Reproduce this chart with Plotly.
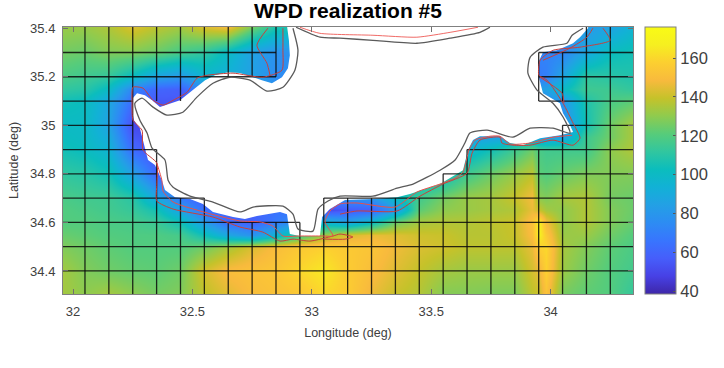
import plotly.graph_objects as go

# ---------- data ----------
lons = [31.95,32.05,32.15,32.25,32.35,32.45,32.55,32.65,32.75,32.85,32.95,33.05,33.15,33.25,33.35,33.45,33.55,33.65,33.75,33.85,33.92,33.95,33.98,34.05,34.15,34.25,34.35]
lats = [34.30,34.40,34.50,34.55,34.60,34.65,34.70,34.80,34.90,34.95,35.00,35.10,35.15,35.20,35.30,35.41]

wpd_3430 = [134,130,134,130,126,128,138,144,150,152,154,160,156,146,140,136,128,128,127,127,138,140,152,126,122,120,112]
wpd_3440 = [134,128,125,123,122,125,142,150,152,154,160,165,156,150,144,139,134,132,132,132,142,146,158,132,125,120,116]
wpd_3450 = [128,125,122,120,120,120,125,134,143,150,155,158,155,153,147,143,141,138,138,138,146,158,160,134,128,122,118]
wpd_3455 = [124,122,120,119,119,117,104,88,78,95,115,132,143,146,144,141,140,137,137,140,150,168,155,132,132,125,120]
wpd_3460 = [120,120,118,117,114,105,82,62,58,68,80,95,85,100,124,134,136,136,138,140,152,168,148,130,136,128,123]
wpd_3465 = [120,118,116,113,105,85,65,58,58,65,65,50,55,58,80,122,130,132,134,136,146,140,134,130,136,128,124]
wpd_3470 = [118,116,115,110,88,68,55,55,55,55,55,70,80,80,100,116,126,132,134,140,148,130,128,134,136,126,124]
wpd_3480 = [112,110,105,85,60,55,55,55,55,55,60,90,90,90,90,95,100,116,125,132,138,122,120,124,128,128,128]
wpd_3490 = [105,102,95,62,50,50,50,50,50,50,60,85,85,85,85,85,90,95,105,116,125,118,116,116,116,130,136]
wpd_3495 = [102,100,90,55,50,50,50,50,50,50,60,85,85,85,85,85,85,85,85,85,85,85,85,85,115,125,135]
wpd_3500 = [100,100,85,50,48,50,55,60,60,60,60,75,75,75,75,75,75,75,75,75,75,75,75,75,105,125,135]
wpd_3510 = [105,102,88,62,55,55,55,60,60,60,60,75,75,75,75,75,75,75,75,75,75,75,75,80,108,118,122]
wpd_3515 = [112,110,100,72,60,58,75,80,80,80,80,85,85,85,85,85,85,85,85,85,85,85,85,100,115,115,112]
wpd_3520 = [118,115,112,100,85,80,95,92,85,75,75,68,68,68,68,68,68,68,68,68,68,68,70,88,112,110,108]
wpd_3530 = [126,124,128,128,124,118,112,100,85,78,78,72,72,72,72,72,72,72,72,72,72,72,72,72,88,102,105]
wpd_3541 = [132,132,136,144,138,134,144,150,128,108,108,90,90,90,90,90,90,90,90,90,90,90,90,85,82,85,95]

wpd = [wpd_3430,wpd_3440,wpd_3450,wpd_3455,wpd_3460,wpd_3465,wpd_3470,wpd_3480,wpd_3490,
       wpd_3495,wpd_3500,wpd_3510,wpd_3515,wpd_3520,wpd_3530,wpd_3541]

# land mask (edge of the wind-power field)
land_lon = [32.896,32.904,32.908,32.900,32.875,32.833,32.791,32.741,32.699,32.649,32.594,32.553,32.519,32.490,32.448,32.385,32.364,32.331,32.301,32.268,32.251,32.247,32.255,32.280,32.293,32.301,32.314,32.343,32.372,32.385,32.427,32.490,32.544,32.586,32.670,32.720,32.770,32.867,32.896,32.908,32.950,33.034,33.043,33.076,33.139,33.256,33.357,33.411,33.537,33.633,33.654,33.675,33.704,33.788,33.830,33.884,33.956,34.039,34.094,34.081,34.052,34.039,33.968,33.951,33.947,33.968,34.027,34.094,34.123,34.157,34.157]
land_lat = [35.41,35.350,35.289,35.235,35.198,35.173,35.186,35.202,35.215,35.219,35.206,35.186,35.161,35.136,35.103,35.083,35.075,35.103,35.124,35.132,35.112,35.062,35.021,34.988,34.939,34.898,34.857,34.836,34.774,34.733,34.704,34.696,34.676,34.643,34.622,34.614,34.626,34.643,34.634,34.552,34.544,34.544,34.622,34.655,34.692,34.696,34.704,34.717,34.758,34.815,34.898,34.939,34.955,34.955,34.927,34.918,34.947,34.959,34.972,35.001,35.050,35.091,35.132,35.198,35.256,35.301,35.309,35.338,35.363,35.400,35.41]

# coast outline
coast_lon = [32.921,32.942,32.929,32.879,32.812,32.741,32.657,32.586,32.519,32.460,32.393,32.335,32.289,32.259,32.280,32.310,32.331,32.385,32.398,32.419,32.490,32.586,32.699,32.754,32.879,32.921,32.942,33.005,33.026,33.068,33.118,33.256,33.357,33.424,33.537,33.600,33.641,33.662,33.734,33.842,33.914,34.010,34.081,34.052,34.010,33.943,33.905,33.914,33.968,34.068,34.090,34.136]
coast_lat = [35.400,35.309,35.227,35.157,35.141,35.186,35.198,35.173,35.116,35.054,35.042,35.075,35.112,35.091,35.021,34.968,34.906,34.857,34.774,34.745,34.708,34.684,34.643,34.663,34.667,34.634,34.573,34.564,34.655,34.688,34.708,34.708,34.741,34.758,34.815,34.857,34.927,34.968,34.980,34.951,34.988,34.988,34.968,35.034,35.091,35.145,35.215,35.280,35.322,35.338,35.371,35.400]
north_lon = [32.934,33.034,33.118,33.256,33.440,33.579,33.704,33.746]
north_lat = [35.404,35.363,35.359,35.350,35.338,35.359,35.383,35.404]

# red contours
red_a_lon = [32.816,32.770,32.812,32.825]
red_a_lat = [35.400,35.330,35.256,35.206]
red_b_lon = [32.879,32.879,32.875,32.795,32.670,32.561,32.519,32.477,32.419,32.377,32.335,32.293,32.251,32.247,32.251,32.289,32.293,32.351,32.351,32.351,32.419,32.586,32.699,32.795,32.867,32.921,32.992,33.089,33.118,33.172,33.139,33.055]
red_b_lat = [35.400,35.309,35.227,35.198,35.215,35.206,35.194,35.136,35.103,35.083,35.103,35.153,35.157,35.091,35.021,34.980,34.898,34.844,34.758,34.688,34.655,34.622,34.581,34.560,34.523,34.531,34.523,34.544,34.552,34.540,34.531,34.531]
red_c_lon = [32.351,32.372,32.377,32.419,32.532,32.699,32.783,32.837,32.879,32.950,33.047,33.089,33.055,33.076,33.118,33.189,33.348,33.440,33.537,33.600,33.633,33.658,33.683,33.746,33.788,33.830,33.914,34.010,34.090]
red_c_lat = [34.844,34.774,34.729,34.684,34.647,34.606,34.602,34.585,34.544,34.544,34.544,34.544,34.602,34.647,34.676,34.680,34.663,34.725,34.758,34.783,34.807,34.898,34.939,34.955,34.955,34.923,34.927,34.951,34.959]
red_e_lon = [33.118,33.189,33.357,33.453,33.549,33.650,33.671,33.704,33.788,33.796,33.842,33.914,34.010,34.094,34.123,34.094,34.052,33.985,33.951,33.956,34.010,34.123,34.249,34.219]
red_e_lat = [34.634,34.647,34.647,34.708,34.758,34.803,34.885,34.939,34.951,34.927,34.918,34.918,34.939,34.918,34.947,35.009,35.091,35.186,35.206,35.268,35.309,35.322,35.350,35.400]
red_f_lon = [33.956,34.048,34.056]
red_f_lat = [35.198,35.132,35.091]
red_g_lon = [33.968,34.081,34.152,34.177]
red_g_lat = [35.268,35.318,35.363,35.400]
red_n_lon = [32.950,33.034,33.256,33.440,33.579,33.696]
red_n_lat = [35.404,35.379,35.371,35.363,35.383,35.404]

# 0.1 degree grid cells
grid_h = [(35.3,[(31.95,32.85),(33.95,34.35)]),(35.2,[(31.95,32.85),(33.95,34.35)]),
          (35.1,[(31.95,32.25),(33.95,34.35)]),(35.0,[(31.95,32.25),(34.05,34.35)]),
          (34.9,[(31.95,32.35),(33.65,34.35)]),(34.8,[(31.95,32.35),(33.55,34.35)]),
          (34.7,[(31.95,32.55),(33.05,34.35)]),(34.6,[(31.95,32.95),(33.05,34.35)]),
          (34.5,[(31.95,34.35)]),(34.4,[(31.95,34.35)])]
grid_v = [(32.05,[(35.41,34.3)]),(32.15,[(35.41,34.3)]),(32.25,[(35.41,34.3)]),
          (32.35,[(35.41,35.1),(34.9,34.3)]),(32.45,[(35.41,35.1),(34.7,34.3)]),
          (32.55,[(35.41,35.2),(34.7,34.3)]),(32.65,[(35.41,35.2),(34.6,34.3)]),
          (32.75,[(35.41,35.2),(34.6,34.3)]),(32.85,[(35.41,35.2),(34.6,34.3)]),
          (32.95,[(34.6,34.3)]),(33.05,[(34.7,34.3)]),(33.15,[(34.7,34.3)]),(33.25,[(34.7,34.3)]),
          (33.35,[(34.7,34.3)]),(33.45,[(34.7,34.3)]),(33.55,[(34.8,34.3)]),(33.65,[(34.9,34.3)]),
          (33.75,[(34.9,34.3)]),(33.85,[(34.9,34.3)]),(33.95,[(35.3,35.1),(34.9,34.3)]),
          (34.05,[(35.3,35.1),(35.0,34.3)]),(34.15,[(35.41,34.3)]),(34.25,[(35.41,34.3)])]

x_ticks = [32,32.5,33,33.5,34]
x_labels = ["32","32.5","33","33.5","34"]
y_ticks = [34.4,34.6,34.8,35,35.2,35.4]
y_labels = ["34.4","34.6","34.8","35","35.2","35.4"]
cb_ticks = [40,60,80,100,120,140,160]

# ---------- style ----------
parula = [(0.2422,0.1504,0.6603),(0.2783,0.2559,0.8991),(0.2760,0.3667,0.9829),(0.2206,0.4603,0.9973),
          (0.1764,0.5499,0.9520),(0.1380,0.6276,0.8973),(0.0689,0.6948,0.8394),(0.0433,0.7411,0.7394),
          (0.1938,0.7758,0.6251),(0.3406,0.8008,0.4789),(0.5616,0.7942,0.3045),(0.7738,0.7598,0.1646),
          (0.9728,0.7298,0.2394),(0.9892,0.8136,0.1884),(0.9628,0.9373,0.1265),(0.9769,0.9839,0.0805)]
n = len(parula) - 1
colorscale = [[i / n, f"rgb({r*255:.0f},{g*255:.0f},{b*255:.0f})"] for i, (r, g, b) in enumerate(parula)]
TXT = "#404040"
FONT = "Liberation Sans"

fig = go.Figure()
fig.add_trace(go.Heatmap(x=lons, y=lats, z=wpd, zsmooth="best", zmin=38.5, zmax=176,
    colorscale=colorscale, hoverinfo="skip",
    colorbar=dict(x=(645-63)/570, xanchor="left", xpad=0, ypad=0, y=0, yanchor="bottom", len=1, lenmode="fraction",
                  thickness=31, thicknessmode="pixels", tickmode="array", tickvals=cb_ticks, ticks="inside",
                  ticklen=3, tickcolor="#555555", outlinecolor="#808080", outlinewidth=1,
                  tickfont=dict(family=FONT, size=16.5, color=TXT))))
fig.add_trace(go.Scatter(x=land_lon, y=land_lat, mode="lines", fill="toself", fillcolor="white",
                         line=dict(width=0, color="white"), hoverinfo="skip"))

gx, gy = [], []
for la, spans in grid_h:
    for a, b in spans:
        gx += [a, b, None]; gy += [la, la, None]
for lo, spans in grid_v:
    for a, b in spans:
        gx += [lo, lo, None]; gy += [a, b, None]
fig.add_trace(go.Scatter(x=gx, y=gy, mode="lines", line=dict(color="rgba(10,10,10,0.85)", width=1.3), hoverinfo="skip"))

fig.add_trace(go.Scatter(x=coast_lon, y=coast_lat, mode="lines", line=dict(color="#5a5a5a", width=1.3, shape="spline", smoothing=0.6), hoverinfo="skip"))
fig.add_trace(go.Scatter(x=north_lon, y=north_lat, mode="lines", line=dict(color="#5a5a5a", width=1.3, shape="spline", smoothing=0.6), hoverinfo="skip"))
for lo, la, col in [(red_a_lon, red_a_lat, "#c8403c"), (red_b_lon, red_b_lat, "#c8403c"),
                    (red_c_lon, red_c_lat, "#e8504c"), (red_e_lon, red_e_lat, "#c8403c"),
                    (red_f_lon, red_f_lat, "#c8403c"), (red_g_lon, red_g_lat, "#c8403c"),
                    (red_n_lon, red_n_lat, "#f06a66")]:
    fig.add_trace(go.Scatter(x=lo, y=la, mode="lines", line=dict(color=col, width=1, shape="spline", smoothing=0.6), hoverinfo="skip"))

axis = dict(showgrid=False, zeroline=False, ticks="inside", ticklen=5, tickcolor="#707070", tickwidth=1,
            showline=True, linecolor="#808080", linewidth=1, mirror="ticks",
            tickfont=dict(family=FONT, size=13, color=TXT), tickmode="array")
fig.update_layout(width=724, height=368, autosize=False, showlegend=False,
    paper_bgcolor="white", plot_bgcolor="white",
    margin=dict(l=63, r=91, t=27, b=74),
    title=dict(text="<b>WPD realization #5</b>", x=348/724, xanchor="center", y=1-11/368, yanchor="middle",
               font=dict(family=FONT, size=21, color="black")),
    xaxis=dict(axis, range=[31.958, 34.345], tickvals=x_ticks, ticktext=x_labels, ticklabelstandoff=5,
               title=dict(text="Longitude (deg)", standoff=10, font=dict(family=FONT, size=12.5, color=TXT))),
    yaxis=dict(axis, range=[34.305, 35.405], tickvals=y_ticks, ticktext=y_labels, ticklabelstandoff=4,
               title=dict(text="Latitude (deg)", standoff=8, font=dict(family=FONT, size=12.5, color=TXT))))
fig.write_html("out.html", post_script="document.body.style.margin='0';", config=dict(displayModeBar=False))
